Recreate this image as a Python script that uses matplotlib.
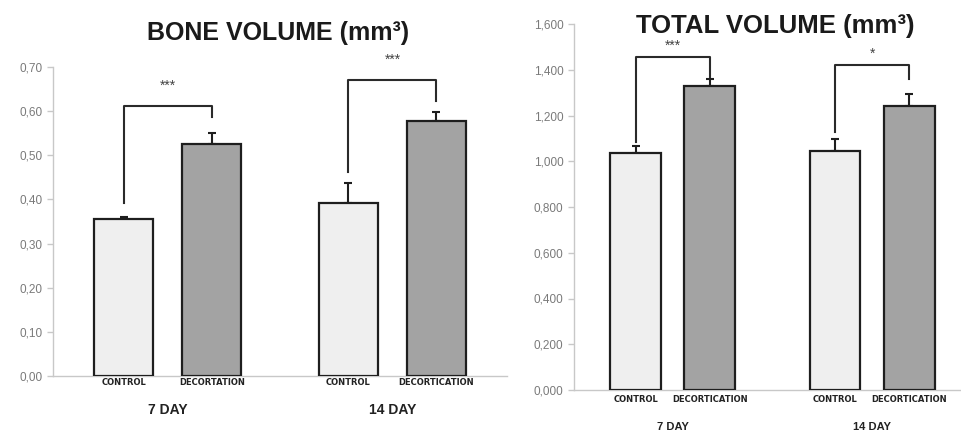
"""Bone volume / total volume bar charts, control vs decortication"""

import matplotlib

matplotlib.use("Agg")
import matplotlib.pyplot as plt
from matplotlib.ticker import FuncFormatter

plt.rcParams["font.family"] = ["Liberation Sans", "DejaVu Sans"]

days = ["7 DAY", "14 DAY"]

bone_control = [0.356, 0.392]
bone_control_err = [0.005, 0.045]
bone_decort = [0.525, 0.578]
bone_decort_err = [0.025, 0.020]
bone_decort_names = ["DECORTATION", "DECORTICATION"]
bone_bracket_top = [0.612, 0.671]
bone_bracket_left = [0.392, 0.463]
bone_bracket_right = [0.587, 0.624]
bone_stars = ["***", "***"]
bone_yticks = [0.0, 0.1, 0.2, 0.3, 0.4, 0.5, 0.6, 0.7]

total_control = [1.036, 1.045]
total_control_err = [0.030, 0.052]
total_decort = [1.329, 1.241]
total_decort_err = [0.030, 0.053]
total_decort_names = ["DECORTICATION", "DECORTICATION"]
total_bracket_top = [1.456, 1.420]
total_bracket_left = [1.084, 1.128]
total_bracket_right = [1.368, 1.360]
total_stars = ["***", "*"]
total_yticks = [0.0, 0.2, 0.4, 0.6, 0.8, 1.0, 1.2, 1.4, 1.6]

LIGHT = "#efefef"
DARK = "#a3a3a3"
EDGE = "#1e1e1e"
AXIS = "#c8c8c8"
TICK = "#7a7a7a"

W, H = 962, 433


def panel(ax, control, control_err, decort, decort_err, decort_names,
          top, left_bot, right_bot, stars, yticks, fmt, offset, width,
          star_pad, lab_off, day_off, day_size):
    x = list(range(len(days)))
    xc = [i - offset for i in x]
    xd = [i + offset for i in x]
    ax.bar(xc, control, width, color=LIGHT, edgecolor=EDGE, linewidth=1.6, zorder=3)
    ax.bar(xd, decort, width, color=DARK, edgecolor=EDGE, linewidth=1.6, zorder=3)
    for xs, vals, errs in ((xc, control, control_err), (xd, decort, decort_err)):
        ax.errorbar(xs, vals, yerr=[[0] * len(errs), errs], fmt="none",
                    ecolor=EDGE, elinewidth=1.5, capsize=3, capthick=1.5, zorder=2)

    for i in x:
        ax.plot([xc[i], xc[i], xd[i], xd[i]],
                [left_bot[i], top[i], top[i], right_bot[i]],
                color="#2a2a2a", lw=1.5, clip_on=False, zorder=4)
        ax.text(i, top[i] + star_pad, stars[i], ha="center", va="center",
                fontsize=10, color="#444444")
        ax.annotate("CONTROL", (xc[i], 0), xytext=(0, -lab_off),
                    textcoords="offset points", ha="center", va="center",
                    fontsize=6, fontweight="bold", color="#222222",
                    family="DejaVu Sans")
        ax.annotate(decort_names[i], (xd[i], 0), xytext=(0, -lab_off),
                    textcoords="offset points", ha="center", va="center",
                    fontsize=6, fontweight="bold", color="#222222",
                    family="DejaVu Sans")
        ax.annotate(days[i], (i, 0), xytext=(0, -day_off),
                    textcoords="offset points", ha="center", va="center",
                    fontsize=day_size, fontweight="bold", color="#222222")

    ax.set_yticks(yticks)
    ax.yaxis.set_major_formatter(FuncFormatter(fmt))
    ax.set_ylim(0, yticks[-1])
    ax.set_xticks([])
    for s in ("top", "right"):
        ax.spines[s].set_visible(False)
    for s in ("left", "bottom"):
        ax.spines[s].set_color(AXIS)
        ax.spines[s].set_linewidth(1.0)
    ax.tick_params(axis="y", colors=AXIS, labelcolor=TICK, labelsize=8.5,
                   length=4, width=1.0)


fig = plt.figure(figsize=(W / 100, H / 100), dpi=100)

# left panel: axis from x=53..507 px, y=67..376 px
ax1 = fig.add_axes([53 / W, 1 - 376 / H, (507 - 53) / W, (376 - 67) / H])
panel(ax1, bone_control, bone_control_err, bone_decort, bone_decort_err,
      bone_decort_names, bone_bracket_top, bone_bracket_left, bone_bracket_right,
      bone_stars, bone_yticks, lambda v, p: f"{v:.2f}".replace(".", ","),
      offset=0.196, width=0.263, star_pad=0.045, lab_off=5, day_off=24.5,
      day_size=10)
ax1.set_xlim(-0.512, 1.51)
fig.text(278 / W, 1 - 33 / H, "BONE VOLUME (mm³)", ha="center", va="center",
         fontsize=18, fontweight="bold", color="#1a1a1a")

# right panel: axis from x=574..962 px, y=24..390 px
ax2 = fig.add_axes([574 / W, 1 - 390 / H, (962 - 574) / W, (390 - 24) / H])
panel(ax2, total_control, total_control_err, total_decort, total_decort_err,
      total_decort_names, total_bracket_top, total_bracket_left,
      total_bracket_right, total_stars, total_yticks,
      lambda v, p: f"{v:.3f}".replace(".", ","),
      offset=0.186, width=0.256, star_pad=0.05, lab_off=6.5, day_off=26.5,
      day_size=8)
ax2.set_xlim(-0.497, 1.452)
fig.text(775 / W, 1 - 26 / H, "TOTAL VOLUME (mm³)", ha="center", va="center",
         fontsize=18.5, fontweight="bold", color="#1a1a1a")

fig.savefig("out.png", dpi=100, facecolor="white")
